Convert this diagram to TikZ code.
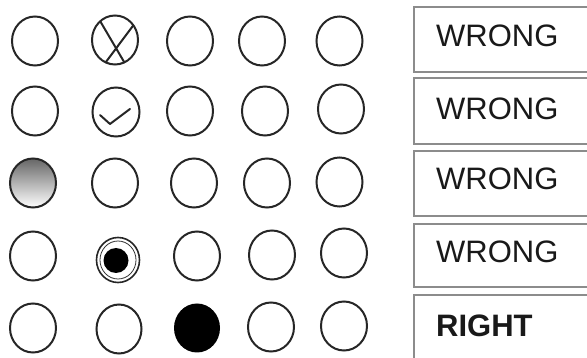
\documentclass[tikz,border=0pt]{standalone}
\usepackage{fontspec}
\setmainfont{Liberation Sans}
\usetikzlibrary{calc}
\begin{document}
\begin{tikzpicture}[x=1pt,y=-1pt,
  ring/.style={draw=black!85,line width=2pt},
  answerbox/.style={draw=black!45,line width=2pt},
  answertext/.style={anchor=base west,inner sep=0pt,font=\fontsize{31}{31}\selectfont,text=black!90}]
\useasboundingbox (0,0) rectangle (587,358);
\clip (0,0) rectangle (587,358);
% row 1
\draw[ring] (35,41) ellipse [x radius=23,y radius=24.5];
\draw[ring] (115,40) ellipse [x radius=23,y radius=24.5];
\draw[ring] ($(115,40)+(114:23 and 24.5)$) -- ($(115,40)+(-37:23 and 24.5)$);
\draw[ring] ($(115,40)+(66:23 and 24.5)$) -- ($(115,40)+(-130:23 and 24.5)$);
\draw[ring] (190,41) ellipse [x radius=23,y radius=24.5];
\draw[ring] (262,41) ellipse [x radius=23,y radius=24.5];
\draw[ring] (339.5,41) ellipse [x radius=23,y radius=24.5];
% row 2
\draw[ring] (35,111) ellipse [x radius=23,y radius=24.5];
\draw[ring] (116,112) ellipse [x radius=23.5,y radius=24.5];
\draw[ring,line join=round,line cap=round] (100,115) -- (110,124) -- (130,109);
\draw[ring] (190,111) ellipse [x radius=23,y radius=24.5];
\draw[ring] (265,111) ellipse [x radius=23,y radius=24.5];
\draw[ring] (341,109) ellipse [x radius=23,y radius=24.5];
% row 3
\shade[top color=black!60,bottom color=white] (33,183) ellipse [x radius=23,y radius=24.5];
\draw[ring] (33,183) ellipse [x radius=23,y radius=24.5];
\draw[ring] (115,183) ellipse [x radius=23,y radius=24.5];
\draw[ring] (194,183) ellipse [x radius=23,y radius=24.5];
\draw[ring] (267,183) ellipse [x radius=23,y radius=24.5];
\draw[ring] (339.5,182) ellipse [x radius=23,y radius=24.5];
% row 4
\draw[ring] (33,256) ellipse [x radius=23,y radius=24.5];
\draw[ring,line width=1.6pt] (118,260) ellipse [x radius=21.5,y radius=22.5];
\draw[draw=black!80,line width=0.8pt] (118,260) ellipse [x radius=18,y radius=19];
\fill[black] (116,260.5) ellipse [x radius=12.5,y radius=12.5];
\draw[ring] (197,256) ellipse [x radius=23,y radius=24.5];
\draw[ring] (272,255) ellipse [x radius=23,y radius=24.5];
\draw[ring] (344,253) ellipse [x radius=23,y radius=24.5];
% row 5
\draw[ring] (33,328) ellipse [x radius=23,y radius=24.5];
\draw[ring] (119,329) ellipse [x radius=22.5,y radius=24.5];
\fill[black] (197,328) ellipse [x radius=23,y radius=24.5];
\draw[ring] (271,327) ellipse [x radius=23,y radius=24.5];
\draw[ring] (344,326) ellipse [x radius=23,y radius=24.5];
% boxes
\draw[answerbox] (414,7) rectangle (600,72);
\draw[answerbox] (414,78) rectangle (600,144);
\draw[answerbox] (414,151) rectangle (600,216);
\draw[answerbox] (414,224) rectangle (600,287);
\draw[answerbox] (414,295) rectangle (600,370);
\node[answertext] (t1) at (436,47) {WRONG};
\node[answertext] (t2) at (436,120) {WRONG};
\node[answertext] (t3) at (436,190) {WRONG};
\node[answertext] (t4) at (436,263) {WRONG};
\node[answertext,font=\fontsize{31}{31}\selectfont\bfseries] (t5) at (436,337) {RIGHT};
\end{tikzpicture}
\end{document}
